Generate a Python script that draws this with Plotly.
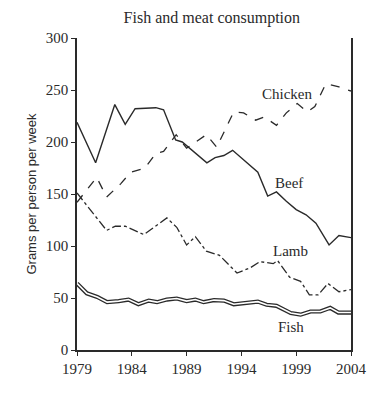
import plotly.graph_objects as go

# Data (year, grams per person per week)
beef_years = [1979, 1980.7, 1982.45, 1983.4, 1984.3, 1986.2, 1986.9, 1988.0, 1988.6, 1989.9,
              1990.85, 1991.6, 1992.4, 1993.2, 1994.8, 1995.5, 1996.4, 1997.2, 1998.1,
              1999.0, 1999.9, 2000.8, 2002.0, 2002.9, 2004]
beef_vals = [219, 180, 236, 217, 232, 233, 231, 202, 200, 188,
             180, 185, 187, 192, 177, 171, 148, 152, 143,
             135, 130, 122, 101, 110, 108]

chicken_years = [1979, 1980.8, 1981.7, 1983.0, 1983.9, 1985.2, 1986.2, 1986.9, 1988.05,
                 1989.0, 1990.8, 1991.75, 1993.3, 1994.2, 1995.3, 1996.1, 1997.2,
                 1998.1, 1999.1, 2000.0, 2000.7, 2001.7, 2002.9, 2004]
chicken_vals = [142, 166, 147, 160, 171, 175, 189, 191, 207,
                194, 207, 195, 229, 228, 221, 224, 216,
                228, 237, 229, 234, 256, 253, 249]

lamb_years = [1979, 1981.7, 1982.5, 1983.4, 1985.1, 1987.2, 1988.1, 1989.0, 1989.8,
              1990.8, 1992.0, 1993.6, 1994.8, 1995.7, 1996.9, 1997.3, 1998.4,
              1999.4, 2000.2, 2001.0, 2001.9, 2002.9, 2004]
lamb_vals = [151, 115, 119, 119, 111, 127, 118, 101, 109,
             95, 91, 74, 79, 85, 83, 86, 70,
             66, 53, 53, 64, 56, 58]

fish_years = [1979, 1979.9, 1980.85, 1981.75, 1982.8, 1983.7, 1984.6, 1985.55, 1986.3,
              1987.2, 1988.1, 1989.0, 1989.8, 1990.55, 1991.5, 1992.4, 1993.3, 1994.5,
              1995.5, 1996.3, 1997.2, 1998.5, 1999.4, 2000.3, 2001.2, 2002.1, 2002.85, 2004]
fish_vals = [64, 54.5, 51, 46, 47, 48.5, 44, 47.5, 46,
             48.5, 49.5, 47, 48.5, 46, 48, 47.5, 44, 45.5,
             46.5, 43.5, 42.5, 35.5, 34, 37, 37, 40.5, 36, 36]

x_ticks = [1979, 1984, 1989, 1994, 1999, 2004]
y_ticks = [0, 50, 100, 150, 200, 250, 300]

labels = ["Chicken", "Beef", "Lamb", "Fish"]
label_x = [1998.2, 1998.3, 1998.5, 1998.5]
label_y = [246, 161, 95, 22]

ink = "#2a2a2a"
serif = "Liberation Serif, Times New Roman, serif"

fig = go.Figure()
fig.add_trace(go.Scatter(x=fish_years, y=fish_vals, mode="lines",
                         line=dict(color=ink, width=4.2), hoverinfo="skip"))
fig.add_trace(go.Scatter(x=fish_years, y=fish_vals, mode="lines",
                         line=dict(color="white", width=1.6), hoverinfo="skip"))
fig.add_trace(go.Scatter(x=lamb_years, y=lamb_vals, mode="lines",
                         line=dict(color=ink, width=1.3, dash="dashdot")))
fig.add_trace(go.Scatter(x=chicken_years, y=chicken_vals, mode="lines",
                         line=dict(color=ink, width=1.3, dash="dash")))
fig.add_trace(go.Scatter(x=beef_years, y=beef_vals, mode="lines",
                         line=dict(color=ink, width=1.4)))

for t, xx, yy in zip(labels, label_x, label_y):
    fig.add_annotation(x=xx, y=yy, text=t, showarrow=False,
                       font=dict(family=serif, size=15, color=ink))

fig.update_layout(
    width=392, height=394,
    margin=dict(l=69, r=49, t=30, b=52),
    paper_bgcolor="white", plot_bgcolor="white",
    showlegend=False,
    title=dict(text="Fish and meat consumption", x=0.52, xanchor="center",
               y=0.975, yanchor="middle",
               font=dict(family=serif, size=16, color=ink)),
    xaxis=dict(range=[1979, 2004], tickvals=x_ticks, ticktext=[str(v) for v in x_ticks],
               showgrid=False, zeroline=False, showline=True, linecolor=ink, linewidth=1.5,
               ticks="outside", ticklen=4, tickcolor=ink,
               tickfont=dict(family=serif, size=15, color=ink)),
    yaxis=dict(range=[0, 300], tickvals=y_ticks,
               showgrid=False, zeroline=False, showline=True, linecolor=ink, linewidth=1.5,
               mirror=True, ticks="outside", ticklen=4, tickcolor=ink,
               tickfont=dict(family=serif, size=15, color=ink),
               title=dict(text="Grams per person per week", standoff=6,
                          font=dict(family="Liberation Sans, Arial, sans-serif", size=13, color=ink))),
)

fig.write_html("out.html")
